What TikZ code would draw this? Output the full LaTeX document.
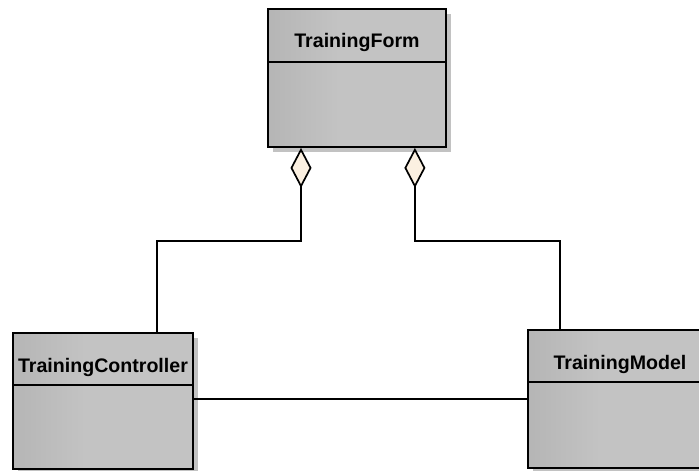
\documentclass[tikz,border=0pt]{standalone}
\usepackage{fontspec}
\setmainfont{Liberation Sans}
\usetikzlibrary{arrows.meta,shadows,calc}

\definecolor{shadeleft}{HTML}{A4A4A4}
\definecolor{shaderight}{HTML}{C3C3C3}
\definecolor{shadowgray}{HTML}{C2C2C2}
\definecolor{diamondfill}{HTML}{FBF0E1}

\pgfdeclarehorizontalshading{classshade}{100bp}{%
  color(0bp)=(shadeleft); color(45bp)=(shaderight); color(100bp)=(shaderight)}

\tikzset{
  classbox/.style={draw=black, line width=1.9pt, shading=classshade,
    rectangle, anchor=north west, inner sep=0pt,
    general shadow={shadow xshift=5pt, shadow yshift=-5pt, fill=shadowgray}},
  classname/.style={anchor=base, inner sep=0pt,
    font=\fontsize{19.6}{21}\selectfont\bfseries},
  divider/.style={line width=1.5pt},
  assoc/.style={line width=1.7pt},
  aggr/.style={assoc, {Diamond[length=40pt, width=21pt, fill=diamondfill, line width=1.7pt]}-}
}

\begin{document}
\begin{tikzpicture}[x=1pt, y=-1pt]
  \useasboundingbox (0,0) rectangle (699,471);

  % class boxes
  \node[classbox, minimum width=178pt, minimum height=138pt] (form) at (267,8) {};
  \node[classbox, minimum width=180pt, minimum height=136pt] (ctrl) at (12,332) {};
  \node[classbox, minimum width=180pt, minimum height=138pt] (model) at (527,329) {};

  % compartment dividers
  \draw[divider] ($(form.north west)+(0,54)$) -- ($(form.north east)+(0,54)$);
  \draw[divider] ($(ctrl.north west)+(0,53)$) -- ($(ctrl.north east)+(0,53)$);
  \draw[divider] ($(model.north west)+(0,53)$) -- ($(model.north east)+(0,53)$);

  % class names
  \node[classname] (formname) at ($(form.north)+(0,39)$) {TrainingForm};
  \node[classname] (ctrlname) at ($(ctrl.north)+(0,40)$) {TrainingController};
  \node[classname] (modelname) at ($(model.north)+(2,40)$) {TrainingModel};

  % aggregations from TrainingForm
  \draw[aggr] ($(form.south west)+(34,0)$) -- ++(0,93)
     -| ($(ctrl.north west)+(145,0)$);
  \draw[aggr] ($(form.south east)+(-32,0)$) -- ++(0,93)
     -| ($(model.north west)+(33,0)$);

  % association between controller and model
  \coordinate (mid) at (0,399);
  \draw[assoc] (ctrl.east |- mid) -- (model.west |- mid);
\end{tikzpicture}
\end{document}
